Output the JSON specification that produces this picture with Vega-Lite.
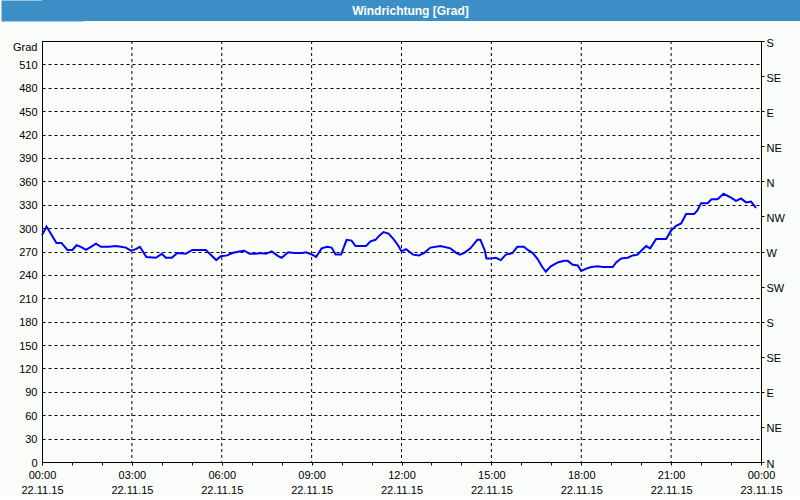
{
  "$schema": "https://vega.github.io/schema/vega-lite/v6.json",
  "background": "#f9fcf9",
  "padding": 0,
  "columns": 1,
  "align": "none",
  "spacing": 15,
  "config": {"font": "Liberation Sans", "view": {"stroke": null}},
  "datasets": {
    "wind": [
      {"t": "2015-11-22T00:00", "v": 291},
      {"t": "2015-11-22T00:09", "v": 302},
      {"t": "2015-11-22T00:29", "v": 281},
      {"t": "2015-11-22T00:39", "v": 281},
      {"t": "2015-11-22T00:51", "v": 272},
      {"t": "2015-11-22T01:01", "v": 272},
      {"t": "2015-11-22T01:09", "v": 278},
      {"t": "2015-11-22T01:18", "v": 276},
      {"t": "2015-11-22T01:28", "v": 272},
      {"t": "2015-11-22T01:38", "v": 276},
      {"t": "2015-11-22T01:48", "v": 280},
      {"t": "2015-11-22T01:58", "v": 276},
      {"t": "2015-11-22T02:14", "v": 276},
      {"t": "2015-11-22T02:28", "v": 277},
      {"t": "2015-11-22T02:38", "v": 276},
      {"t": "2015-11-22T02:48", "v": 275},
      {"t": "2015-11-22T02:58", "v": 271},
      {"t": "2015-11-22T03:08", "v": 273},
      {"t": "2015-11-22T03:16", "v": 276},
      {"t": "2015-11-22T03:29", "v": 263},
      {"t": "2015-11-22T03:48", "v": 262},
      {"t": "2015-11-22T04:00", "v": 267},
      {"t": "2015-11-22T04:08", "v": 262},
      {"t": "2015-11-22T04:20", "v": 262},
      {"t": "2015-11-22T04:31", "v": 268},
      {"t": "2015-11-22T04:48", "v": 267},
      {"t": "2015-11-22T05:01", "v": 272},
      {"t": "2015-11-22T05:28", "v": 272},
      {"t": "2015-11-22T05:41", "v": 264},
      {"t": "2015-11-22T05:49", "v": 259},
      {"t": "2015-11-22T05:58", "v": 264},
      {"t": "2015-11-22T06:11", "v": 265},
      {"t": "2015-11-22T06:21", "v": 268},
      {"t": "2015-11-22T06:35", "v": 270},
      {"t": "2015-11-22T06:45", "v": 271},
      {"t": "2015-11-22T06:56", "v": 267},
      {"t": "2015-11-22T07:08", "v": 267},
      {"t": "2015-11-22T07:18", "v": 268},
      {"t": "2015-11-22T07:28", "v": 267},
      {"t": "2015-11-22T07:40", "v": 270},
      {"t": "2015-11-22T07:53", "v": 264},
      {"t": "2015-11-22T08:00", "v": 262},
      {"t": "2015-11-22T08:13", "v": 269},
      {"t": "2015-11-22T08:25", "v": 268},
      {"t": "2015-11-22T08:41", "v": 268},
      {"t": "2015-11-22T08:49", "v": 269},
      {"t": "2015-11-22T09:01", "v": 266},
      {"t": "2015-11-22T09:09", "v": 263},
      {"t": "2015-11-22T09:20", "v": 274},
      {"t": "2015-11-22T09:31", "v": 276},
      {"t": "2015-11-22T09:40", "v": 275},
      {"t": "2015-11-22T09:48", "v": 266},
      {"t": "2015-11-22T09:59", "v": 266},
      {"t": "2015-11-22T10:10", "v": 285},
      {"t": "2015-11-22T10:20", "v": 284},
      {"t": "2015-11-22T10:28", "v": 277},
      {"t": "2015-11-22T10:49", "v": 277},
      {"t": "2015-11-22T10:58", "v": 283},
      {"t": "2015-11-22T11:08", "v": 285},
      {"t": "2015-11-22T11:15", "v": 290},
      {"t": "2015-11-22T11:24", "v": 295},
      {"t": "2015-11-22T11:34", "v": 293},
      {"t": "2015-11-22T11:44", "v": 286},
      {"t": "2015-11-22T11:54", "v": 277},
      {"t": "2015-11-22T12:00", "v": 270},
      {"t": "2015-11-22T12:09", "v": 273},
      {"t": "2015-11-22T12:23", "v": 266},
      {"t": "2015-11-22T12:35", "v": 265},
      {"t": "2015-11-22T12:45", "v": 268},
      {"t": "2015-11-22T12:58", "v": 275},
      {"t": "2015-11-22T13:18", "v": 277},
      {"t": "2015-11-22T13:38", "v": 274},
      {"t": "2015-11-22T13:50", "v": 268},
      {"t": "2015-11-22T13:57", "v": 266},
      {"t": "2015-11-22T14:05", "v": 268},
      {"t": "2015-11-22T14:18", "v": 274},
      {"t": "2015-11-22T14:32", "v": 285},
      {"t": "2015-11-22T14:38", "v": 285},
      {"t": "2015-11-22T14:47", "v": 271},
      {"t": "2015-11-22T14:50", "v": 261},
      {"t": "2015-11-22T14:59", "v": 261},
      {"t": "2015-11-22T15:09", "v": 262},
      {"t": "2015-11-22T15:19", "v": 259},
      {"t": "2015-11-22T15:29", "v": 266},
      {"t": "2015-11-22T15:42", "v": 268},
      {"t": "2015-11-22T15:52", "v": 276},
      {"t": "2015-11-22T16:05", "v": 276},
      {"t": "2015-11-22T16:13", "v": 272},
      {"t": "2015-11-22T16:23", "v": 268},
      {"t": "2015-11-22T16:33", "v": 260},
      {"t": "2015-11-22T16:41", "v": 251},
      {"t": "2015-11-22T16:49", "v": 244},
      {"t": "2015-11-22T16:59", "v": 251},
      {"t": "2015-11-22T17:13", "v": 256},
      {"t": "2015-11-22T17:26", "v": 258},
      {"t": "2015-11-22T17:33", "v": 258},
      {"t": "2015-11-22T17:43", "v": 253},
      {"t": "2015-11-22T17:53", "v": 252},
      {"t": "2015-11-22T18:00", "v": 245},
      {"t": "2015-11-22T18:10", "v": 248},
      {"t": "2015-11-22T18:20", "v": 250},
      {"t": "2015-11-22T18:33", "v": 251},
      {"t": "2015-11-22T18:43", "v": 250},
      {"t": "2015-11-22T19:03", "v": 250},
      {"t": "2015-11-22T19:10", "v": 256},
      {"t": "2015-11-22T19:20", "v": 261},
      {"t": "2015-11-22T19:33", "v": 262},
      {"t": "2015-11-22T19:43", "v": 265},
      {"t": "2015-11-22T19:53", "v": 266},
      {"t": "2015-11-22T20:00", "v": 271},
      {"t": "2015-11-22T20:10", "v": 277},
      {"t": "2015-11-22T20:18", "v": 274},
      {"t": "2015-11-22T20:30", "v": 286},
      {"t": "2015-11-22T20:50", "v": 286},
      {"t": "2015-11-22T21:00", "v": 297},
      {"t": "2015-11-22T21:10", "v": 303},
      {"t": "2015-11-22T21:20", "v": 306},
      {"t": "2015-11-22T21:30", "v": 318},
      {"t": "2015-11-22T21:46", "v": 318},
      {"t": "2015-11-22T21:53", "v": 323},
      {"t": "2015-11-22T22:00", "v": 332},
      {"t": "2015-11-22T22:13", "v": 332},
      {"t": "2015-11-22T22:21", "v": 337},
      {"t": "2015-11-22T22:33", "v": 337},
      {"t": "2015-11-22T22:45", "v": 344},
      {"t": "2015-11-22T23:00", "v": 339},
      {"t": "2015-11-22T23:10", "v": 335},
      {"t": "2015-11-22T23:20", "v": 338},
      {"t": "2015-11-22T23:30", "v": 333},
      {"t": "2015-11-22T23:40", "v": 334},
      {"t": "2015-11-22T23:50", "v": 326}
    ],
    "grid3h": [
      {"t": "2015-11-22T03:00"},
      {"t": "2015-11-22T06:00"},
      {"t": "2015-11-22T09:00"},
      {"t": "2015-11-22T12:00"},
      {"t": "2015-11-22T15:00"},
      {"t": "2015-11-22T18:00"},
      {"t": "2015-11-22T21:00"}
    ]
  },
  "concat": [
    {
      "width": 759,
      "height": 21,
      "view": {"fill": "#3c8fc6", "stroke": null},
      "data": {"values": [{"label": "Windrichtung [Grad]"}]},
      "mark": {"type": "text", "color": "white", "font": "Liberation Sans", "fontSize": 12, "fontWeight": "bold", "dx": -11, "baseline": "middle"},
      "encoding": {
        "text": {"field": "label", "type": "nominal"},
        "y": {
          "field": "label",
          "type": "nominal",
          "axis": {"title": null, "labels": false, "ticks": false, "grid": false, "domainColor": "#3c8fc6", "domainWidth": 82}
        }
      }
    },
    {
      "width": 719,
      "height": 421,
      "view": {"stroke": "black", "strokeWidth": 1},
      "encoding": {
        "x": {
          "field": "t",
          "type": "temporal",
          "scale": {"domain": [{"year": 2015, "month": 11, "date": 22, "hours": 0}, {"year": 2015, "month": 11, "date": 23, "hours": 0}]},
          "axis": {
            "title": " ",
            "titleX": -41,
            "titleY": 0,
            "titleAlign": "left",
            "titleAngle": 0,
            "titleOpacity": 0,
            "values": [
              {"year": 2015, "month": 11, "date": 22, "hours": 0},
              {"year": 2015, "month": 11, "date": 22, "hours": 1},
              {"year": 2015, "month": 11, "date": 22, "hours": 2},
              {"year": 2015, "month": 11, "date": 22, "hours": 3},
              {"year": 2015, "month": 11, "date": 22, "hours": 4},
              {"year": 2015, "month": 11, "date": 22, "hours": 5},
              {"year": 2015, "month": 11, "date": 22, "hours": 6},
              {"year": 2015, "month": 11, "date": 22, "hours": 7},
              {"year": 2015, "month": 11, "date": 22, "hours": 8},
              {"year": 2015, "month": 11, "date": 22, "hours": 9},
              {"year": 2015, "month": 11, "date": 22, "hours": 10},
              {"year": 2015, "month": 11, "date": 22, "hours": 11},
              {"year": 2015, "month": 11, "date": 22, "hours": 12},
              {"year": 2015, "month": 11, "date": 22, "hours": 13},
              {"year": 2015, "month": 11, "date": 22, "hours": 14},
              {"year": 2015, "month": 11, "date": 22, "hours": 15},
              {"year": 2015, "month": 11, "date": 22, "hours": 16},
              {"year": 2015, "month": 11, "date": 22, "hours": 17},
              {"year": 2015, "month": 11, "date": 22, "hours": 18},
              {"year": 2015, "month": 11, "date": 22, "hours": 19},
              {"year": 2015, "month": 11, "date": 22, "hours": 20},
              {"year": 2015, "month": 11, "date": 22, "hours": 21},
              {"year": 2015, "month": 11, "date": 22, "hours": 22},
              {"year": 2015, "month": 11, "date": 22, "hours": 23},
              {"year": 2015, "month": 11, "date": 23, "hours": 0}
            ],
            "labelExpr": "hours(datum.value) % 3 == 0 ? [timeFormat(datum.value, '%H:%M'), timeFormat(datum.value, '%d.%m.%y')] : ''",
            "labelOverlap": false,
            "labelFlush": false,
            "labelBound": false,
            "labelFontSize": 11,
            "labelColor": "black",
            "labelPadding": 4,
            "labelLineHeight": 15,
            "labelBaseline": "top",
            "tickSize": 3,
            "tickColor": "black",
            "domainColor": "black",
            "grid": false
          }
        }
      },
      "layer": [
        {
          "data": {"name": "grid3h"},
          "mark": {"type": "rule", "color": "black", "strokeWidth": 1, "strokeDash": [3, 3]},
          "encoding": {}
        },
        {
          "data": {"name": "wind"},
          "mark": {"type": "line", "color": "#0000ff", "strokeWidth": 2},
          "encoding": {
            "y": {
              "field": "v",
              "type": "quantitative",
              "scale": {"domain": [0, 540], "nice": false, "zero": false},
              "axis": {
                "orient": "left",
                "values": [0, 30, 60, 90, 120, 150, 180, 210, 240, 270, 300, 330, 360, 390, 420, 450, 480, 510],
                "title": "Grad",
                "titleAngle": 0,
                "titleX": -5,
                "titleY": 0,
                "titleAlign": "right",
                "titleBaseline": "top",
                "titleFontSize": 11,
                "titleFontWeight": "normal",
                "titleColor": "black",
                "ticks": false,
                "labelPadding": 5,
                "labelOffset": 1,
                "labelFontSize": 11,
                "labelColor": "black",
                "labelBound": false,
                "labelOverlap": false,
                "domainColor": "black",
                "grid": true,
                "gridColor": "black",
                "gridDash": [3, 3]
              }
            }
          }
        },
        {
          "data": {"name": "wind"},
          "mark": {"type": "line", "opacity": 0},
          "encoding": {
            "y": {
              "field": "v",
              "type": "quantitative",
              "scale": {"domain": [0, 540], "nice": false, "zero": false},
              "axis": {
                "orient": "right",
                "values": [0, 45, 90, 135, 180, 225, 270, 315, 360, 405, 450, 495, 540],
                "labelExpr": "['N','NE','E','SE','S','SW','W','NW'][round(datum.value / 45) % 8]",
                "title": null,
                "grid": false,
                "tickSize": 3,
                "tickColor": "black",
                "labelPadding": 2,
                "labelOffset": 2,
                "labelFontSize": 11,
                "labelColor": "black",
                "labelBound": false,
                "labelOverlap": false,
                "domainColor": "black"
              }
            }
          }
        }
      ],
      "resolve": {"scale": {"y": "independent"}}
    }
  ]
}
